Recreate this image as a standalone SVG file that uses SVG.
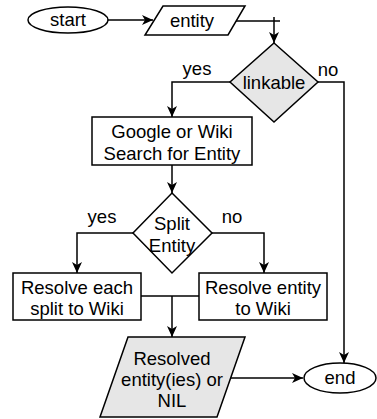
<svg xmlns="http://www.w3.org/2000/svg" width="377" height="419" viewBox="0 0 377 419">
<style>
.s{fill:#fff;stroke:#000;stroke-width:1.5}
.g{fill:#e6e6e6;stroke:#000;stroke-width:1.5}
.c{fill:none;stroke:#000;stroke-width:1.5}
text{font-family:"Liberation Sans",Arial,sans-serif;font-size:18.5px;fill:#000;text-anchor:middle}
</style>
<defs>
<marker id="a" markerUnits="userSpaceOnUse" markerWidth="13" markerHeight="13" viewBox="0 0 13 13" refX="12" refY="6.5" orient="auto">
<path d="M1,1.5 L12,6.5 L1,11.5 L4,6.5 Z" fill="#000"/>
</marker>
</defs>
<g id="connectors">
<path class="c" d="M108,20 H153" marker-end="url(#a)"/>
<path class="c" d="M236,21 H280"/>
<path class="c" d="M274,17 V43" marker-end="url(#a)"/>
<path class="c" d="M230,82 H172 V117" marker-end="url(#a)"/>
<path class="c" d="M318,82 H344 V363" marker-end="url(#a)"/>
<path class="c" d="M172,165 V193" marker-end="url(#a)"/>
<path class="c" d="M133,233 H77 V273" marker-end="url(#a)"/>
<path class="c" d="M212,233 H264 V273" marker-end="url(#a)"/>
<path class="c" d="M141,296 H199"/>
<path class="c" d="M172,296 V337" marker-end="url(#a)"/>
<path class="c" d="M231,378 H303" marker-end="url(#a)"/>
</g>
<g id="start"><ellipse class="s" cx="68" cy="20" rx="40" ry="13"/><text x="68" y="26">start</text></g>
<g id="entity"><polygon class="s" points="163,6 245,6 228,35 145,35"/><text x="192" y="27">entity</text></g>
<g id="linkable"><polygon class="g" points="274,43 318,82 274,122 230,82"/><text x="274" y="89">linkable</text></g>
<g id="label-yes1"><text x="197" y="75">yes</text></g>
<g id="label-no1"><text x="328" y="76">no</text></g>
<g id="search"><rect class="s" x="92" y="117" width="160" height="48"/><text x="172" y="138">Google or Wiki</text><text x="172" y="160">Search for Entity</text></g>
<g id="split"><polygon class="s" points="172,193 212,233 172,273 133,233"/><text x="172" y="230">Split</text><text x="172" y="252">Entity</text></g>
<g id="label-yes2"><text x="102" y="223">yes</text></g>
<g id="label-no2"><text x="232" y="223">no</text></g>
<g id="resolve-each"><rect class="s" x="13" y="273" width="128" height="47"/><text x="77" y="294">Resolve each</text><text x="77" y="315">split to Wiki</text></g>
<g id="resolve-entity"><rect class="s" x="199" y="273" width="128" height="47"/><text x="263" y="294">Resolve entity</text><text x="263" y="315">to Wiki</text></g>
<g id="resolved"><polygon class="g" points="128,337 245,337 217,417 100,417"/><text x="172" y="365">Resolved</text><text x="172" y="386">entity(ies) or</text><text x="172" y="407">NIL</text></g>
<g id="end"><ellipse class="s" cx="340" cy="378" rx="36" ry="15"/><text x="340" y="384">end</text></g>
</svg>
